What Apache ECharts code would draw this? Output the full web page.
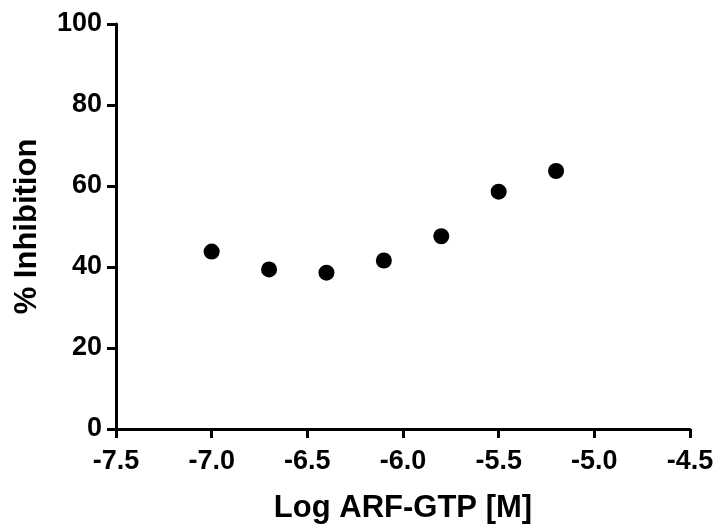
<!DOCTYPE html>
<html><head><meta charset="utf-8">
<script src="https://cdn.jsdelivr.net/npm/echarts@6/dist/echarts.min.js"></script>
<style>html,body{margin:0;padding:0;background:#fff}#c{width:718px;height:524px}</style>
</head><body><div id="c"></div>
<script>
const logConc = [-7.0, -6.7, -6.4, -6.1, -5.8, -5.5, -5.2];
const inhibition = [43.8, 39.4, 38.6, 41.6, 47.6, 58.6, 63.7];
const xTitle = 'Log ARF-GTP [M]';
const yTitle = '% Inhibition';
const narrowOK = document.fonts ? document.fonts.check('bold 20px "Liberation Sans Narrow"') : false;
const c2 = document.createElement('canvas').getContext('2d');
c2.font = 'bold 100px "Liberation Sans Narrow", monospace';
const wN = c2.measureText('-7.5').width;
c2.font = 'bold 100px monospace';
const wM = c2.measureText('-7.5').width;
const useNarrow = Math.abs(wN - wM) > 1;
const font = useNarrow ? '"Liberation Sans Narrow", sans-serif' : '"Liberation Sans", Arial, sans-serif';
const tickSize = useNarrow ? 32 : 27;
const titleSize = useNarrow ? 37 : 31;
const chart = echarts.init(document.getElementById('c'));
const axisLine = {show: true, onZero: false, lineStyle: {color: '#000', width: 3}};
chart.setOption({
  animation: false,
  grid: {left: 116, right: 28, top: 24, bottom: 95, containLabel: false, outerBoundsMode: 'none'},
  xAxis: {
    type: 'value', min: -7.5, max: -4.5, interval: 0.5,
    axisLine: axisLine,
    axisTick: {show: true, length: 9, lineStyle: {color: '#000', width: 3}},
    splitLine: {show: false},
    axisLabel: {color: '#000', fontSize: tickSize, fontWeight: 'bold', fontFamily: font, margin: 19,
      formatter: v => v.toFixed(1)},
    name: xTitle, nameLocation: 'middle', nameGap: 64,
    nameTextStyle: {color: '#000', fontSize: titleSize, fontWeight: 'bold', fontFamily: font}
  },
  yAxis: {
    type: 'value', min: 0, max: 100, interval: 20,
    axisLine: axisLine,
    axisTick: {show: true, length: 9, lineStyle: {color: '#000', width: 3}},
    splitLine: {show: false},
    axisLabel: {color: '#000', fontSize: tickSize, fontWeight: 'bold', fontFamily: font, margin: 14},
    name: yTitle, nameLocation: 'middle', nameGap: 73,
    nameTextStyle: {color: '#000', fontSize: titleSize, fontWeight: 'bold', fontFamily: font}
  },
  series: [{
    type: 'scatter', symbol: 'circle', symbolSize: 16,
    itemStyle: {color: '#000', opacity: 1},
    data: logConc.map((x, i) => [x, inhibition[i]])
  }]
});
</script></body></html>
